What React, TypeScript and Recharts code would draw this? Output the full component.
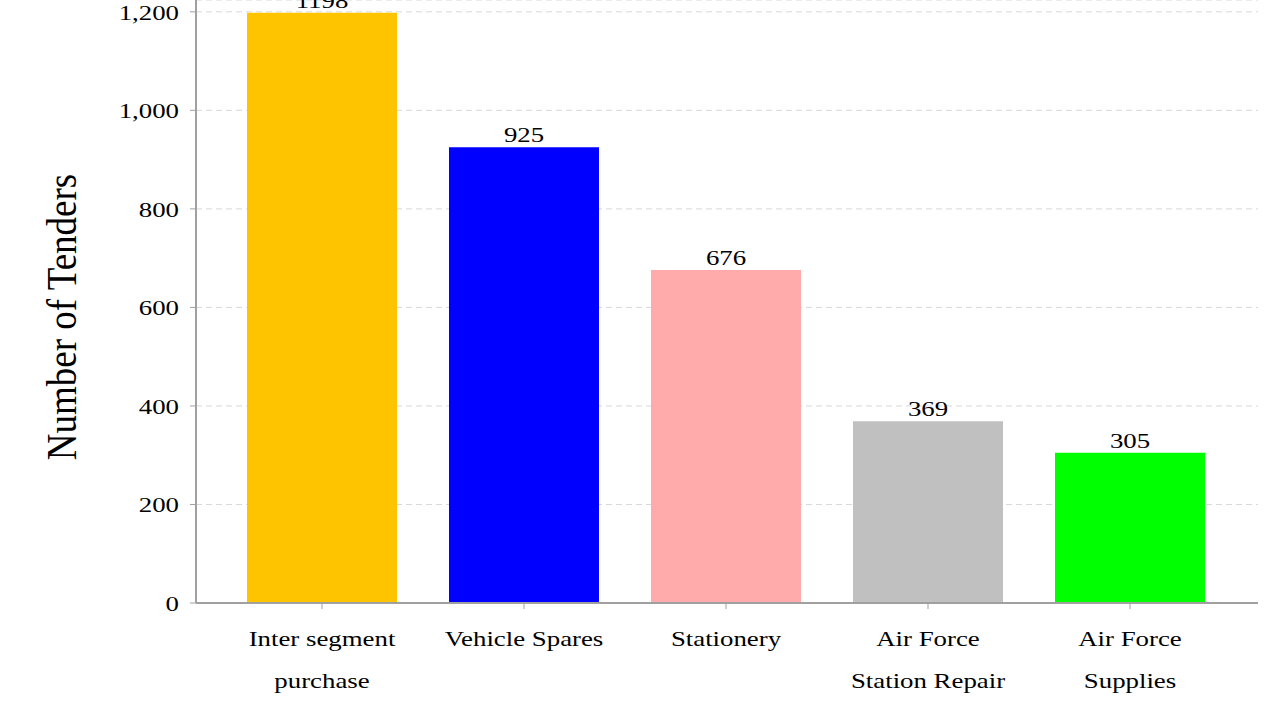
import React from "react";
import { BarChart, Bar, XAxis, YAxis, CartesianGrid, Cell, LabelList } from "recharts";

const categories = ["Inter segment\npurchase", "Vehicle Spares", "Stationery", "Air Force\nStation Repair", "Air Force\nSupplies"];
const tenders = [1198, 925, 676, 369, 305];
const barColors = ["#ffc400", "#0000ff", "#ffabab", "#c0c0c0", "#00ff00"];
const yTicks = [0, 200, 400, 600, 800, 1000, 1200];

const data = categories.map((c, i) => ({ name: c, value: tenders[i] }));

const FONT = "'Liberation Serif', 'Times New Roman', serif";
const SX = 1.22;

const XTick = (props: any) => {
  const { x, payload } = props;
  const lines = String(payload.value).split("\n");
  return (
    <g transform={`translate(${x},0) scale(${SX},1)`}>
      <text textAnchor="middle" fontFamily={FONT} fontSize={22} fill="#000">
        {lines.map((l: string, i: number) => (
          <tspan key={i} x={0} y={646 + i * 42}>{l}</tspan>
        ))}
      </text>
    </g>
  );
};

const YTick = (props: any) => {
  const { y, payload } = props;
  return (
    <g transform={`translate(179,${y}) scale(${SX},1)`}>
      <text textAnchor="end" dy="0.35em" fontFamily={FONT} fontSize={22} fill="#000">
        {payload.value.toLocaleString("en-US")}
      </text>
    </g>
  );
};

const ValueLabel = (props: any) => {
  const { x, y, width, value } = props;
  return (
    <g transform={`translate(${x + width / 2},${y - 5}) scale(${SX},1)`}>
      <text textAnchor="middle" fontFamily={FONT} fontSize={22} fill="#000">{value}</text>
    </g>
  );
};

export default function App() {
  return (
    <div style={{ position: "absolute", left: 0, top: 0, width: 1280, height: 720, background: "#fff" }}>
      <BarChart width={1280} height={720} data={data} margin={{ top: 0, right: 22, left: 0, bottom: 0 }} barSize={150}>
        <CartesianGrid vertical={false} stroke="#d8d8d8" strokeDasharray="6 4" />
        <XAxis
          dataKey="name"
          height={117}
          interval={0}
          padding={{ left: 25, right: 27 }}
          axisLine={{ stroke: "#a0a0a0", strokeWidth: 2 }}
          tickLine={{ stroke: "#a0a0a0" }}
          tickSize={6}
          tick={<XTick />}
        />
        <YAxis
          width={196}
          domain={[0, 1224]}
          ticks={yTicks}
          interval={0}
          axisLine={{ stroke: "#a0a0a0", strokeWidth: 2 }}
          tickLine={{ stroke: "#a0a0a0" }}
          tickSize={6}
          tick={<YTick />}
        />
        <YAxis
          yAxisId="r"
          orientation="right"
          width={0}
          domain={[0, 1224]}
          tick={false}
          tickLine={false}
          axisLine={{ stroke: "#c4c4c4", strokeWidth: 3 }}
        />
        <Bar dataKey="value" isAnimationActive={false}>
          {data.map((d, i) => (
            <Cell key={i} fill={barColors[i]} />
          ))}
          <LabelList dataKey="value" content={<ValueLabel />} />
        </Bar>
        <text transform={`translate(76,317) scale(1.15,1) rotate(-90)`} textAnchor="middle" fontFamily={FONT} fontSize={37} fill="#000">
          Number of Tenders
        </text>
      </BarChart>
    </div>
  );
}
